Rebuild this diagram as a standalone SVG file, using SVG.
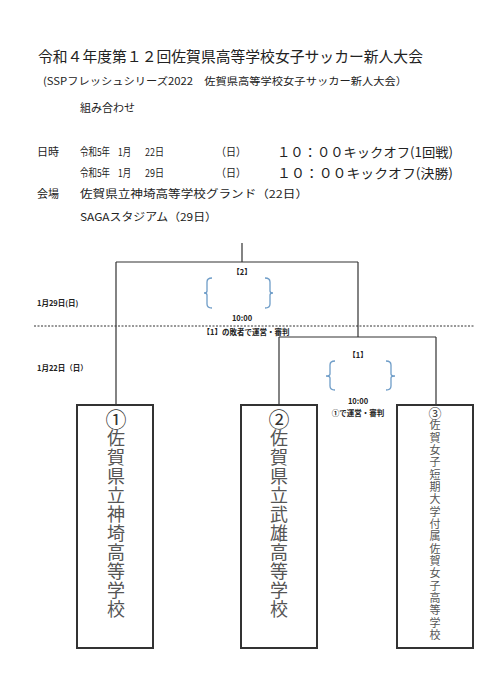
<svg xmlns="http://www.w3.org/2000/svg" width="496" height="686" viewBox="0 0 496 686">
<style>
.t{font-family:"Noto Sans CJK JP","Liberation Serif",serif;fill:#222}
.r{font-family:"Noto Sans CJK JP","Liberation Serif",serif;fill:#222;font-size:11px}
.s{font-family:"Noto Sans CJK JP","Liberation Sans",sans-serif;fill:#222;font-weight:bold;font-size:7.5px}
.ln{stroke:#333;stroke-width:1.2;fill:none}
.box{stroke:#333;stroke-width:2;fill:#fff}
.br{stroke:#6f9dc8;stroke-width:1.3;fill:none}
.c{font-family:"Noto Sans CJK JP","Liberation Serif",serif;fill:#333;text-anchor:middle}
.v{font-family:"Noto Sans CJK JP","Liberation Serif",serif;fill:#555;writing-mode:vertical-rl}
</style>
<rect width="496" height="686" fill="#fff"/>
<g id="header">
<text class="t" x="38" y="62" font-size="15" textLength="385" lengthAdjust="spacingAndGlyphs">令和４年度第１２回佐賀県高等学校女子サッカー新人大会</text>
<text class="t" x="43" y="85" font-size="10.5" textLength="364" lengthAdjust="spacingAndGlyphs">(SSPフレッシュシリーズ2022　佐賀県高等学校女子サッカー新人大会）</text>
<text class="t" x="80" y="112" font-size="11">組み合わせ</text>
<text class="t" x="37" y="156" font-size="11">日時</text>
<text class="r" x="80" y="156" textLength="30" lengthAdjust="spacingAndGlyphs">令和5年</text>
<text class="r" x="118" y="156" textLength="13" lengthAdjust="spacingAndGlyphs">1月</text>
<text class="r" x="145" y="156" textLength="19" lengthAdjust="spacingAndGlyphs">22日</text>
<text class="r" x="216" y="156" textLength="30" lengthAdjust="spacingAndGlyphs">（日）</text>
<text class="t" x="277" y="157" font-size="13" textLength="176" lengthAdjust="spacingAndGlyphs">１０：００キックオフ(1回戦)</text>
<text class="r" x="80" y="177" textLength="30" lengthAdjust="spacingAndGlyphs">令和5年</text>
<text class="r" x="118" y="177" textLength="13" lengthAdjust="spacingAndGlyphs">1月</text>
<text class="r" x="145" y="177" textLength="19" lengthAdjust="spacingAndGlyphs">29日</text>
<text class="r" x="216" y="177" textLength="30" lengthAdjust="spacingAndGlyphs">（日）</text>
<text class="t" x="277" y="178" font-size="13" textLength="176" lengthAdjust="spacingAndGlyphs">１０：００キックオフ(決勝)</text>
<text class="t" x="37" y="198" font-size="11">会場</text>
<text class="t" x="80" y="198" font-size="11" textLength="228" lengthAdjust="spacingAndGlyphs">佐賀県立神埼高等学校グランド（22日）</text>
<text class="t" x="80" y="221" font-size="11" textLength="137" lengthAdjust="spacingAndGlyphs">SAGAスタジアム（29日）</text>
</g>
<g id="connectors">
<path class="ln" d="M242 243V262M116 262H358M116 262V405M358 262V337M279 337H436M279 337V405M436 337V405"/>
<line x1="34" y1="326" x2="474" y2="326" stroke="#333" stroke-width="1" stroke-dasharray="2,1.5"/>
</g>
<g id="labels">
<text class="s" x="37" y="306">1月29日(日)</text>
<text class="s" x="37" y="371">1月22日（日）</text>
</g>
<g id="match2">
<text class="s" x="242" y="275" text-anchor="middle">【2】</text>
<path class="br" d="M212 278Q207 278 207 282V291Q207 293 204 293Q207 293 207 295V304Q207 308 212 308"/>
<path class="br" d="M265 278Q270 278 270 282V291Q270 293 273 293Q270 293 270 295V304Q270 308 265 308"/>
<text class="s" x="242" y="321" text-anchor="middle">10:00</text>
<text class="s" x="246" y="335" text-anchor="middle">【1】の敗者で運営・審判</text>
</g>
<g id="match1">
<text class="s" x="358" y="358" text-anchor="middle">【1】</text>
<path class="br" d="M335 361Q330 361 330 365V374Q330 376 326 376Q330 376 330 378V386Q330 390 335 390"/>
<path class="br" d="M386 361Q391 361 391 365V374Q391 376 395 376Q391 376 391 378V386Q391 390 386 390"/>
<text class="s" x="358" y="404" text-anchor="middle">10:00</text>
<text class="s" x="358" y="416" text-anchor="middle">①で運営・審判</text>
</g>
<g id="team1">
<rect class="box" x="77" y="405" width="76" height="243"/>
<text class="c" font-size="21" x="116" y="427">①</text>
<text class="v" font-size="18" letter-spacing="1" x="116" y="429">佐賀県立神埼高等学校</text>
</g>
<g id="team2">
<rect class="box" x="241" y="405" width="76" height="243"/>
<text class="c" font-size="21" x="279" y="427">②</text>
<text class="v" font-size="18" letter-spacing="1" x="279" y="429">佐賀県立武雄高等学校</text>
</g>
<g id="team3">
<rect class="box" x="397" y="405" width="76" height="243"/>
<text class="c" font-size="13" x="435" y="418">③</text>
<text class="v" font-size="11" letter-spacing="1.35" x="435" y="419.5" fill="#666">佐賀女子短期大学付属佐賀女子高等学校</text>
</g>
</svg>
